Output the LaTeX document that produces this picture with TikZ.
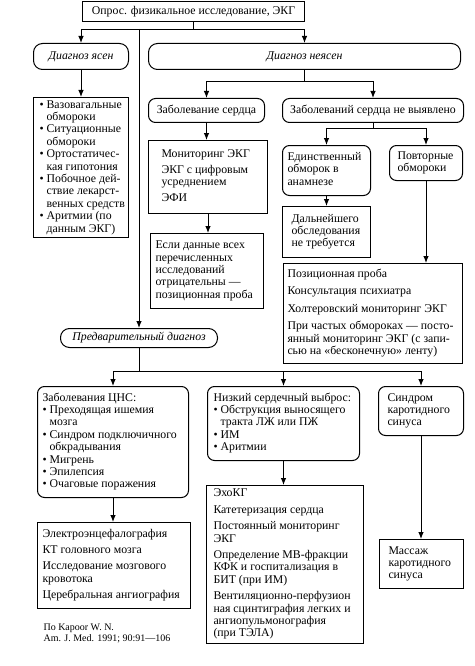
\documentclass[tikz,border=0pt]{standalone}
\usepackage{fontspec}
\setmainfont{Liberation Serif}
\usetikzlibrary{%
	calc,%
	arrows.meta%
}
\newcommand{\blt}{\textbullet\ }
\newcommand{\bind}{\hphantom{\textbullet\ }}
\newcommand{\lns}[2]{\makebox[#1][l]{\begin{tabular}{@{}l@{}}#2\end{tabular}}}

\begin{document}
\begin{tikzpicture}[x=1pt,y=-1pt,>={Latex[length=7pt,width=5.5pt]},
		every node/.style={font=\fontsize{11.8}{12.4}\selectfont},
		box/.style={draw,line width=1pt,anchor=north west,inner ysep=2pt},
		rbox/.style={box,rounded corners=7pt},
		diag/.style={box,align=center,rounded corners=9pt,
			font=\fontsize{11.8}{12.4}\selectfont\itshape},
		link/.style={line width=0.9pt}]
	\useasboundingbox (0,0) rectangle (474,666);
	
	% Start
	\node[box,minimum width=222,minimum height=20,inner ysep=1pt] (start) at (82,1) {Опрос. физикальное исследование, ЭКГ};
	\node[diag,minimum width=95,minimum height=26] (clear) at (33,43) {Диагноз ясен};
	\node[diag,minimum width=312,minimum height=26] (unclear) at (148,43) {Диагноз неясен};
	
	% Diagnosis clear
	\node[box,inner xsep=6pt,minimum height=139] (clearlist) at (33,97) {\lns{83pt}{\blt Вазовагальные\\ \bind обмороки\\ \blt Ситуационные\\ \bind обмороки\\ \blt Ортостатичес-\\ \bind кая гипотония\\ \blt Побочное дей-\\ \bind ствие лекарст-\\ \bind венных средств\\ \blt Аритмии (по\\ \bind данным ЭКГ)}};
	
	% Diagnosis unclear
	\node[rbox,minimum width=116,minimum height=24,inner xsep=2pt] (heart) at (148,98) {Заболевание сердца};
	\node[rbox,minimum width=181,minimum height=24,inner xsep=2pt] (noheart) at (282,98) {Заболеваний сердца не выявлено};
	\node[box,inner xsep=13pt,minimum height=73] (monitor) at (148,140) {\lns{93pt}{Мониторинг ЭКГ\\[3pt] ЭКГ с цифровым\\ усреднением\\[3pt] ЭФИ}};
	\node[box,inner xsep=5pt,minimum height=75] (negative) at (150,233) {\lns{103pt}{Если данные всех\\ перечисленных\\ исследований\\ отрицательны —\\ позиционная проба}};
	\node[rbox,inner xsep=5pt,minimum height=50] (single) at (282,145) {\lns{78pt}{Единственный\\ обморок в\\ анамнезе}};
	\node[rbox,inner xsep=8pt,minimum height=35] (repeated) at (389,145) {\lns{57pt}{Повторные\\ обмороки}};
	\node[box,inner xsep=9pt,minimum height=51] (nofurther) at (282,206) {\lns{70pt}{Дальнейшего\\ обследования\\ не требуется}};
	\node[box,inner xsep=4pt,minimum height=100] (tests) at (283,263) {\lns{171pt}{Позиционная проба\\[5pt] Консультация психиатра\\[5pt] Холтеровский мониторинг ЭКГ\\[5pt] При частых обмороках — посто-\\ янный мониторинг ЭКГ (с запи-\\ сью на «бесконечную» ленту)}};
	
	% Preliminary diagnosis
	\node[diag,minimum width=157,minimum height=19] (prelim) at (60,328) {Предварительный диагноз};
	\node[rbox,inner xsep=5pt,minimum height=111] (cns) at (37,386) {\lns{141pt}{Заболевания ЦНС:\\ \blt Преходящая ишемия\\ \bind мозга\\ \blt Синдром подключичного\\ \bind обкрадывания\\ \blt Мигрень\\ \blt Эпилепсия\\ \blt Очаговые поражения}};
	\node[rbox,inner xsep=6pt,minimum height=74] (lowout) at (207,386) {\lns{140pt}{Низкий сердечный выброс:\\ \blt Обструкция выносящего\\ \bind тракта ЛЖ или ПЖ\\ \blt ИМ\\ \blt Аритмии}};
	\node[rbox,inner xsep=9pt,minimum height=49] (carotid) at (378,386) {\lns{67pt}{Синдром\\ каротидного\\ синуса}};
	\node[box,inner xsep=5pt,minimum height=86] (cnstests) at (37,522) {\lns{143pt}{Электроэнцефалография\\[4pt] КТ головного мозга\\[4pt] Исследование мозгового\\ кровотока\\[4pt] Церебральная ангиография}};
	\node[box,inner xsep=7pt,minimum height=158] (echo) at (206,485) {\lns{143pt}{ЭхоКГ\\[4pt] Катетеризация сердца\\[4pt] Постоянный мониторинг\\ ЭКГ\\[4pt] Определение МВ-фракции\\ КФК и госпитализация в\\ БИТ (при ИМ)\\[4pt] Вентиляционно-перфузион\\ ная сцинтиграфия легких и\\ ангиопульмонография\\ (при ТЭЛА)}};
	\node[box,inner xsep=9pt,minimum height=49] (massage) at (379,539) {\lns{66pt}{Массаж\\ каротидного\\ синуса}};
	
	% Source
	\node[anchor=north west,align=left,font=\fontsize{10}{11}\selectfont] (source) at (40,620) {По Kapoor W. N.\\ Am. J. Med. 1991; 90:91—106};
	
	% Arrows
	\draw[link] (start.south) -- ++(0,7) coordinate (f1);
	\draw[link,->] (f1) -| (clear.north);
	\draw[link,->] (f1) -| (unclear.north);
	\draw[link,->] (f1 -| prelim.north) -- (prelim.north);
	\draw[link,->] (clear.south) -- (clear.south |- clearlist.north);
	
	\draw[link] (unclear.south) -- ++(0,11) coordinate (f2);
	\draw[link,->] (f2) -| (heart.north);
	\draw[link,->] (f2) -| (noheart.north);
	\draw[link,->] (heart.south) -- (heart.south |- monitor.north);
	\draw[link,->] (monitor.south) -- (monitor.south |- negative.north);
	
	\draw[link] (noheart.south) -- ++(0,5) coordinate (f3);
	\draw[link,->] (f3) -| (single.north);
	\draw[link,->] (f3) -| (repeated.north);
	\draw[link,->] (single.south) -- (single.south |- nofurther.north);
	\draw[link,->] (repeated.south) -- (repeated.south |- tests.north);
	
	\draw[link] (prelim.south) -- ++(0,23) coordinate (f4);
	\draw[link,->] (f4) -| (cns.north);
	\draw[link,->] (f4) -| (lowout.north);
	\draw[link,->] (f4) -| (carotid.north);
	\draw[link,->] (cns.south) -- (cns.south |- cnstests.north);
	\draw[link,->] (lowout.south) -- (lowout.south |- echo.north);
	\draw[link,->] (carotid.south) -- (carotid.south |- massage.north);
\end{tikzpicture}
\end{document}
